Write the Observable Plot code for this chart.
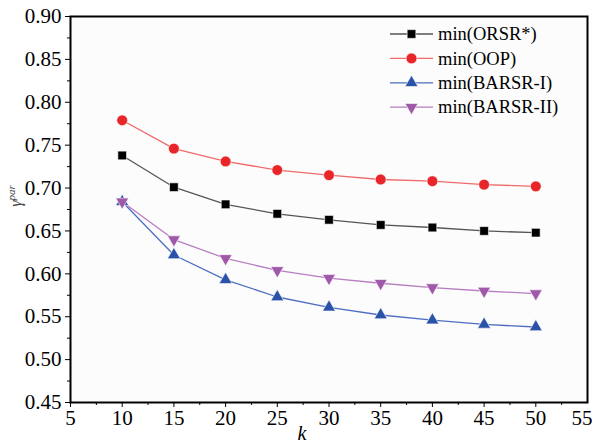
<!DOCTYPE html>
<html>
<head>
<meta charset="utf-8">
<script src="https://cdn.jsdelivr.net/npm/d3@7"></script>
<script src="https://cdn.jsdelivr.net/npm/@observablehq/plot@0.6"></script>
<style>
  html, body { margin: 0; padding: 0; background: white; }
</style>
</head>
<body>
<div id="chart"></div>
<script>
// ---- data ----
const ks = [10, 15, 20, 25, 30, 35, 40, 45, 50];
const orsr   = [0.738, 0.701, 0.681, 0.670, 0.663, 0.657, 0.654, 0.650, 0.648];
const oop    = [0.779, 0.746, 0.731, 0.721, 0.715, 0.710, 0.708, 0.704, 0.702];
const barsr1 = [0.684, 0.622, 0.593, 0.573, 0.561, 0.552, 0.546, 0.541, 0.538];
const barsr2 = [0.684, 0.640, 0.618, 0.604, 0.595, 0.589, 0.584, 0.580, 0.577];
const seriesNames = ["min(ORSR*)", "min(OOP)", "min(BARSR-I)", "min(BARSR-II)"];
const xTicks = [5, 10, 15, 20, 25, 30, 35, 40, 45, 50];
const xLastTick = [55];
const xMinor = [7.5, 12.5, 17.5, 22.5, 27.5, 32.5, 37.5, 42.5, 47.5, 52.5];
const yTicks = [0.45, 0.50, 0.55, 0.60, 0.65, 0.70, 0.75, 0.80, 0.85, 0.90];
const yMinor = [0.475, 0.525, 0.575, 0.625, 0.675, 0.725, 0.775, 0.825, 0.875];

// ---- styles ----
const styles = [
  {line: "#555555", fill: "#000000", symbol: "square",   r: 4.9, rotate: 0},
  {line: "#f06a6a", fill: "#e8262a", symbol: "circle",   r: 5.4, rotate: 0},
  {line: "#4d6fc2", fill: "#2a52a8", symbol: "triangle", r: 4.8, rotate: 0},
  {line: "#b87dc2", fill: "#a058a8", symbol: "triangle", r: 4.8, rotate: 180}
];
const values = [orsr, oop, barsr1, barsr2];
const series = values.map((vals, i) => ks.map((k, j) => ({k, v: vals[j], s: seriesNames[i]})));

const font = "Liberation Serif";
const tickFs = 21;

const marks = [
  Plot.frame({fill: "#fcfcfc", stroke: null}),
  Plot.axisX({ticks: xTicks, tickSize: 5, tickPadding: 3, tickFormat: d => String(d), label: null, fontSize: tickFs, fontFamily: font}),
  Plot.axisX({ticks: xLastTick, tickSize: 5, tickPadding: 3, tickFormat: d => String(d), label: null, fontSize: tickFs, fontFamily: font, textAnchor: "end", dx: 5}),
  Plot.axisX({ticks: xMinor, tickSize: 3, tickFormat: () => "", label: null}),
  Plot.axisY({ticks: yTicks, tickSize: 5, tickPadding: 4, tickFormat: d3.format(".2f"), label: null, fontSize: tickFs, fontFamily: font}),
  Plot.axisY({ticks: yMinor, tickSize: 3, tickFormat: () => "", label: null})
];
series.forEach((data, i) => {
  const st = styles[i];
  marks.push(Plot.line(data, {x: "k", y: "v", stroke: st.line, strokeWidth: 1.3}));
});
series.forEach((data, i) => {
  const st = styles[i];
  marks.push(Plot.dot(data, {x: "k", y: "v", symbol: st.symbol, r: st.r, rotate: st.rotate,
    fill: st.fill, stroke: "white", strokeWidth: 0.6}));
});
marks.push(Plot.frame({stroke: "black", strokeWidth: 2}));

const plot = Plot.plot({
  width: 592,
  height: 445,
  marginLeft: 70,
  marginRight: 5,
  marginTop: 16,
  marginBottom: 43,
  style: "font-family: 'Liberation Serif', serif; font-size: 21px; background: white; color: black; overflow: visible;",
  x: {domain: [5, 55]},
  y: {domain: [0.45, 0.90]},
  marks
});

const svg = d3.select(plot);

// Axis titles
const yl = svg.append("text")
  .attr("transform", "translate(21,196) rotate(-90)")
  .attr("text-anchor", "middle")
  .attr("font-family", font)
  .attr("font-style", "italic")
  .attr("font-size", 16)
  .attr("fill", "#444");
yl.append("tspan").text("γ");
yl.append("tspan").attr("font-size", 11).attr("dy", -6).text("par");

svg.append("text")
  .attr("x", 302).attr("y", 440)
  .attr("text-anchor", "middle")
  .attr("font-family", font)
  .attr("font-style", "italic")
  .attr("font-size", 20)
  .text("k");

// Legend
const lg = svg.append("g")
  .attr("font-family", font)
  .attr("font-size", 18.5)
  .attr("text-anchor", "start");
seriesNames.forEach((name, i) => {
  const st = styles[i];
  const y = 34 + 24.4 * i;
  lg.append("line").attr("x1", 390).attr("x2", 433).attr("y1", y).attr("y2", y)
    .attr("stroke", st.line).attr("stroke-width", 1.3);
  const sym = st.symbol === "square" ? d3.symbolSquare : st.symbol === "circle" ? d3.symbolCircle : d3.symbolTriangle;
  lg.append("path")
    .attr("d", d3.symbol(sym, Math.PI * st.r * st.r)())
    .attr("transform", `translate(411.5,${y}) rotate(${st.rotate})`)
    .attr("fill", st.fill).attr("stroke", "white").attr("stroke-width", 0.6);
  lg.append("text").attr("x", 438).attr("y", y).attr("dy", "0.33em").text(name);
});

document.getElementById("chart").appendChild(plot);
</script>
</body>
</html>
